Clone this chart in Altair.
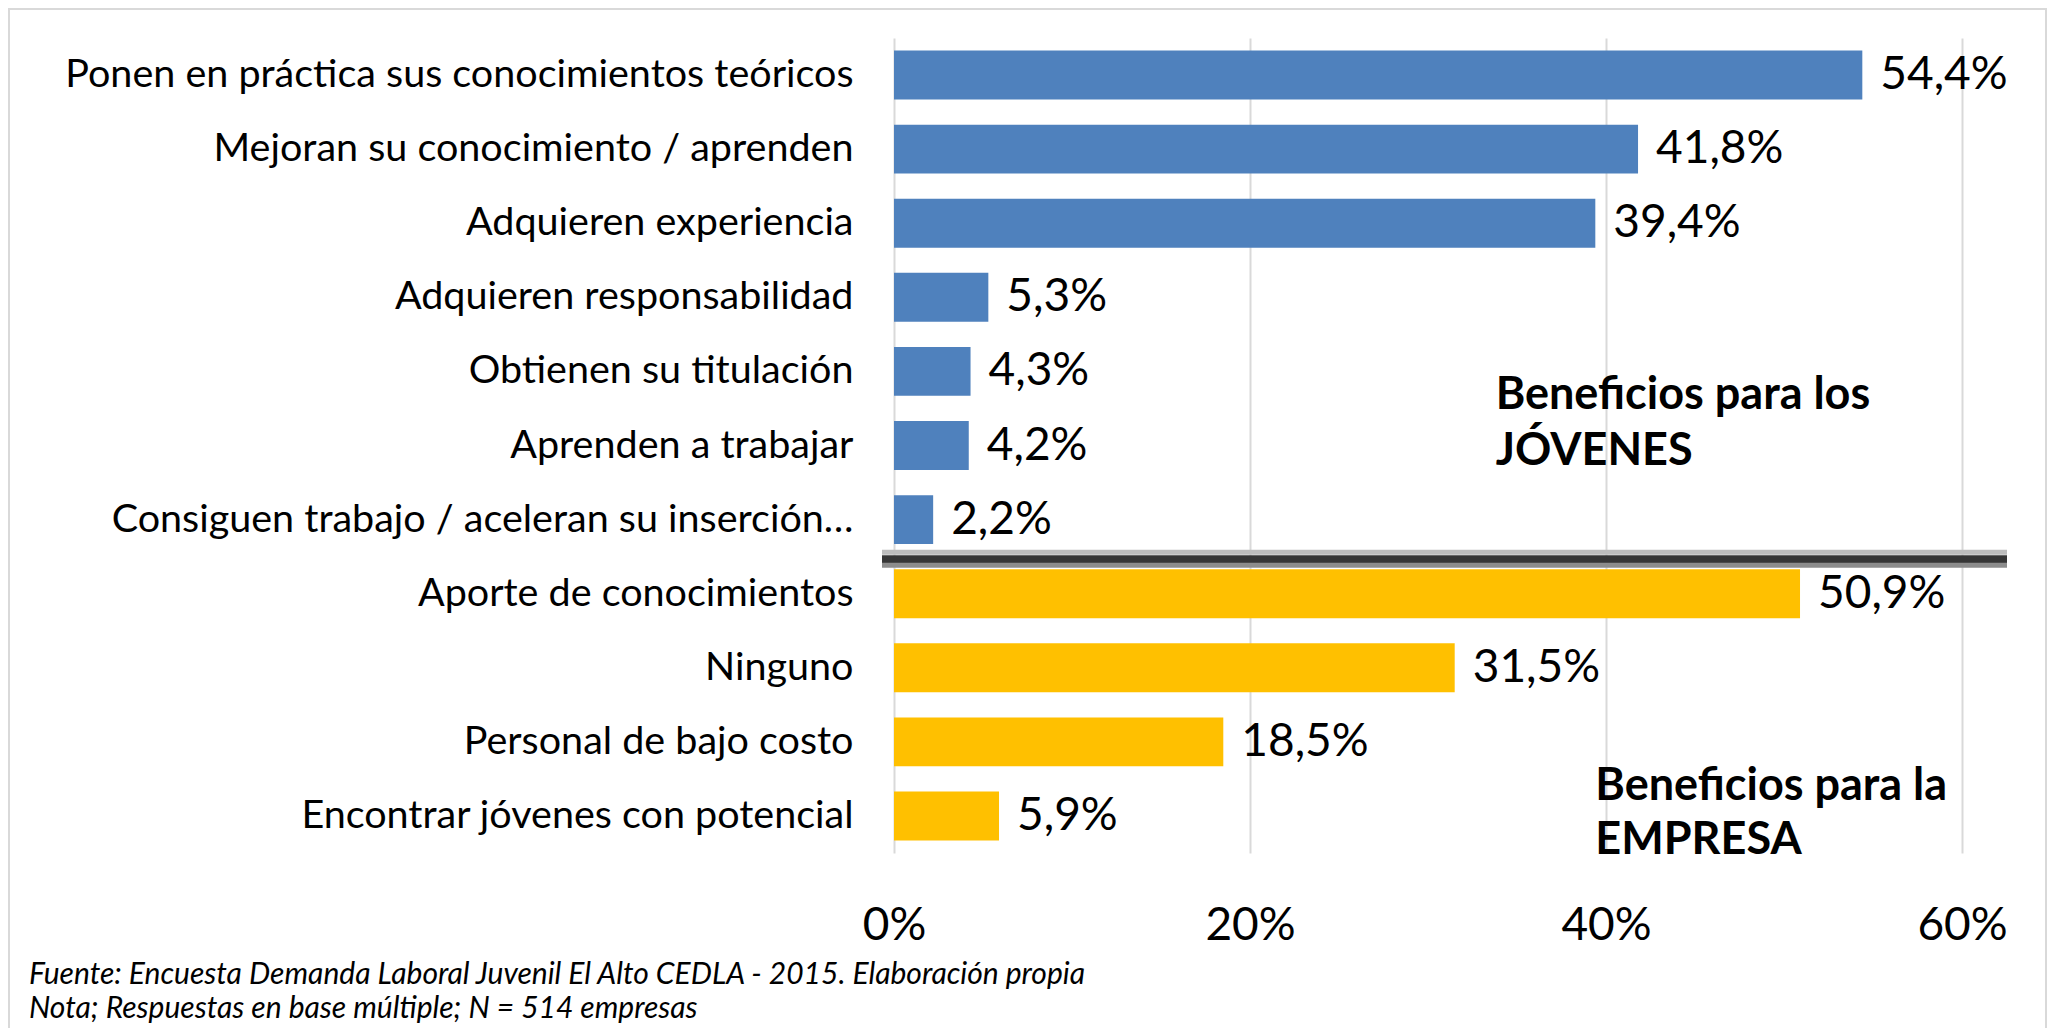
import altair as alt
import pandas as pd

FONT = "Lato"

categories = [
    "Ponen en práctica sus conocimientos teóricos",
    "Mejoran su conocimiento / aprenden",
    "Adquieren experiencia",
    "Adquieren responsabilidad",
    "Obtienen su titulación",
    "Aprenden a trabajar",
    "Consiguen trabajo / aceleran su inserción…",
    "Aporte de conocimientos",
    "Ninguno",
    "Personal de bajo costo",
    "Encontrar jóvenes con potencial",
]
values = [54.4, 41.8, 39.4, 5.3, 4.3, 4.2, 2.2, 50.9, 31.5, 18.5, 5.9]
groups = ["JÓVENES"] * 7 + ["EMPRESA"] * 4
group_colors = ["#4F81BD", "#FFC000"]
x_ticks = [0, 20, 40, 60]
footnotes = [
    "Fuente: Encuesta Demanda Laboral Juvenil El Alto CEDLA - 2015. Elaboración propia",
    "Nota; Respuestas en base múltiple; N = 514 empresas",
]

df = pd.DataFrame({
    "cat": categories,
    "val": values,
    "grp": groups,
    "label": [f"{v:.1f}".replace(".", ",") + "%" for v in values],
})

W, H = 1068, 815

y_enc = alt.Y(
    "cat:N", sort=categories,
    scale=alt.Scale(paddingInner=0.34, paddingOuter=0.17),
    axis=alt.Axis(title=None, labelFont=FONT, labelFontSize=39.5, labelColor="#000000",
                  labelPadding=41, ticks=False, tickSize=0, domain=False, labelLimit=1200, grid=False),
)
x_enc = alt.X(
    "val:Q", scale=alt.Scale(domain=[0, 60], nice=False),
    axis=alt.Axis(values=x_ticks, labelExpr="datum.value + '%'", title=None, grid=True,
                  gridColor="#d9d9d9", gridWidth=2, domain=False, ticks=False, tickSize=0,
                  labelFont=FONT, labelFontSize=46, labelColor="#000000", labelPadding=50,
                  labelFlush=False, labelBaseline="top"),
)

base = alt.Chart(df)

bars = base.mark_bar().encode(
    x=x_enc, y=y_enc,
    color=alt.Color("grp:N", scale=alt.Scale(domain=["JÓVENES", "EMPRESA"], range=group_colors), legend=None),
)

texts = base.mark_text(align="left", baseline="middle", dx=18, font=FONT, fontSize=46, color="#000000").encode(
    x="val:Q", y=alt.Y("cat:N", sort=categories), text="label:N",
)

# separator between the two groups (anchored on the first EMPRESA category)
sep_df = pd.DataFrame({"cat": ["Aporte de conocimientos"]})
sep_base = alt.Chart(sep_df)
sep1 = sep_base.mark_rule(color="#bdbdbd", strokeWidth=5, yOffset=-17).encode(
    y=alt.Y("cat:N", sort=categories, bandPosition=0), x=alt.value(-12), x2=alt.value(1113))
sep2 = sep_base.mark_rule(color="#363636", strokeWidth=8, yOffset=-10).encode(
    y=alt.Y("cat:N", sort=categories, bandPosition=0), x=alt.value(-12), x2=alt.value(1113))
sep3 = sep_base.mark_rule(color="#8c8c8c", strokeWidth=5, yOffset=-4).encode(
    y=alt.Y("cat:N", sort=categories, bandPosition=0), x=alt.value(-12), x2=alt.value(1113))

# group annotations
ann_df = pd.DataFrame({
    "x": [33.8, 39.4],
    "cat": ["Obtienen su titulación", "Encontrar jóvenes con potencial"],
    "txt": ["Beneficios para los\nJÓVENES", "Beneficios para la\nEMPRESA"],
})
ann1 = alt.Chart(ann_df.iloc[[0]]).mark_text(
    align="left", baseline="alphabetic", font=FONT, fontSize=45, fontWeight="bold",
    lineBreak="\n", lineHeight=56, color="#000000", yOffset=38,
).encode(x="x:Q", y=alt.Y("cat:N", sort=categories), text="txt:N")
ann2 = alt.Chart(ann_df.iloc[[1]]).mark_text(
    align="left", baseline="alphabetic", font=FONT, fontSize=45, fontWeight="bold",
    lineBreak="\n", lineHeight=54, color="#000000", yOffset=-16,
).encode(x="x:Q", y=alt.Y("cat:N", sort=categories), text="txt:N")

foot_df = pd.DataFrame({"txt": footnotes, "row": [0, 1]})
foot1 = alt.Chart(foot_df.iloc[[0]]).mark_text(
    align="left", baseline="middle", font=FONT, fontSize=30, fontStyle="italic", color="#000000",
).encode(x=alt.value(-865), y=alt.value(937), text="txt:N")
foot2 = alt.Chart(foot_df.iloc[[1]]).mark_text(
    align="left", baseline="middle", font=FONT, fontSize=30, fontStyle="italic", color="#000000",
).encode(x=alt.value(-865), y=alt.value(971), text="txt:N")

border = alt.Chart(sep_df).mark_rect(filled=False, stroke="#d9d9d9", strokeWidth=2).encode(
    x=alt.value(-885), x2=alt.value(1152), y=alt.value(-29), y2=alt.value(1020))

chart = alt.layer(border, bars, texts, sep1, sep2, sep3, ann1, ann2, foot1, foot2).properties(
    width=W, height=H,
    autosize=alt.AutoSizeParams(type="none"),
    padding={"left": 886, "top": 30, "right": 87, "bottom": 175},
    background="white",
).configure_view(strokeWidth=0)

chart.save("out.html", embed_options={"renderer": "svg", "actions": False})
